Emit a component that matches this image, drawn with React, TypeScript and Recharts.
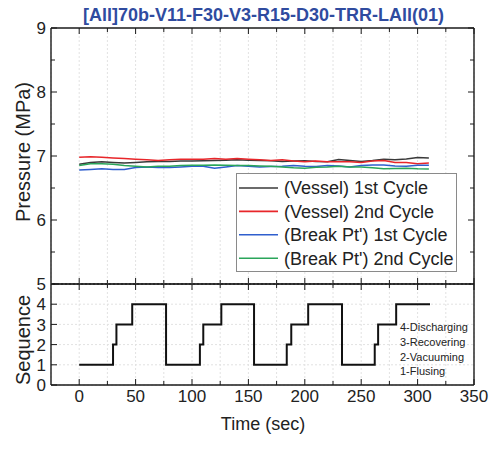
import React from 'react';
import { LineChart, Line, XAxis, YAxis, CartesianGrid, Legend } from 'recharts';

const timeSec = [0, 10, 20, 30, 40, 50, 60, 70, 80, 90, 100, 110, 120, 130, 140, 150, 160, 170, 180, 190, 200, 210, 220, 230, 240, 250, 260, 270, 280, 290, 300, 310];
const vessel1st = [6.87, 6.9, 6.91, 6.9, 6.89, 6.9, 6.91, 6.915, 6.915, 6.92, 6.92, 6.925, 6.93, 6.935, 6.94, 6.935, 6.93, 6.925, 6.915, 6.92, 6.925, 6.915, 6.91, 6.945, 6.93, 6.915, 6.93, 6.95, 6.94, 6.955, 6.975, 6.97];
const vessel2nd = [6.98, 6.99, 6.98, 6.97, 6.96, 6.95, 6.94, 6.93, 6.94, 6.95, 6.95, 6.95, 6.96, 6.95, 6.96, 6.95, 6.94, 6.93, 6.94, 6.92, 6.91, 6.92, 6.91, 6.91, 6.91, 6.9, 6.92, 6.93, 6.9, 6.9, 6.88, 6.89];
const breakPt1st = [6.78, 6.79, 6.8, 6.79, 6.79, 6.82, 6.83, 6.82, 6.82, 6.83, 6.84, 6.84, 6.81, 6.83, 6.85, 6.84, 6.83, 6.835, 6.84, 6.85, 6.84, 6.835, 6.85, 6.845, 6.83, 6.85, 6.86, 6.86, 6.845, 6.84, 6.855, 6.855];
const breakPt2nd = [6.85, 6.88, 6.88, 6.87, 6.85, 6.84, 6.83, 6.84, 6.84, 6.85, 6.855, 6.855, 6.86, 6.855, 6.85, 6.85, 6.845, 6.84, 6.83, 6.815, 6.81, 6.825, 6.83, 6.84, 6.83, 6.83, 6.815, 6.8, 6.805, 6.81, 6.8, 6.795];

const seqTime = [0, 30, 33, 47, 77, 107, 110, 126, 155, 184, 188, 203, 233, 262, 265, 281, 311];
const seqStage = [1, 2, 3, 4, 1, 2, 3, 4, 1, 2, 3, 4, 1, 2, 3, 4, 4];

const xTicks = [0, 25, 50, 75, 100, 125, 150, 175, 200, 225, 250, 275, 300, 325, 350];
const pressureTicks = [5, 5.5, 6, 6.5, 7, 7.5, 8, 8.5, 9];
const seqTicks = [0, 1, 2, 3, 4, 5];
const stageLabels = ['4-Discharging', '3-Recovering', '2-Vacuuming', '1-Flusing'];

const seriesNames = ['(Vessel) 1st Cycle', '(Vessel) 2nd Cycle', "(Break Pt') 1st Cycle", "(Break Pt') 2nd Cycle"];
const seriesKeys = ['v1', 'v2', 'b1', 'b2'];
const seriesColors = ['#3a3a3a', '#e8262a', '#2f5fce', '#2aa55a'];

const titleText = '[All]70b-V11-F30-V3-R15-D30-TRR-LAll(01)';

const pressureData = timeSec.map((t, i) => ({
  t,
  v1: vessel1st[i],
  v2: vessel2nd[i],
  b1: breakPt1st[i],
  b2: breakPt2nd[i],
}));
const seqData = seqTime.map((t, i) => ({ t, s: seqStage[i] }));

const FONT = '"Liberation Sans", Arial, Helvetica, sans-serif';
const W = 495;
const H = 452;
const LEFT = 51;
const RIGHT_M = W - 474;
const UP_TOP = 28;
const MID = 284;
const LOW_BOTTOM = 385;
const AX = '#1a1a1a';

const isMajorX = (v: number) => v % 50 === 0;
const isMajorY = (v: number) => Math.abs(v - Math.round(v)) < 1e-6;

const makeXTick = (dir: number, showLabel: boolean) => (props: any) => {
  const { x, y, payload } = props;
  const major = isMajorX(payload.value);
  const len = major ? 6 : 4;
  return (
    <g>
      <path d={`M${x},${y}v${dir * len}`} stroke={AX} strokeWidth={1} fill="none" />
      {showLabel && major ? (
        <text x={x} y={y + 17} textAnchor="middle" fontSize={17} fontFamily={FONT} fill="#222" stroke="none">
          {payload.value}
        </text>
      ) : null}
    </g>
  );
};

const makeYTick = (dir: number, labelFilter: ((v: number) => boolean) | null) => (props: any) => {
  const { x, y, payload } = props;
  const major = isMajorY(payload.value);
  const len = major ? 6 : 4;
  return (
    <g>
      <path d={`M${x},${y}h${dir * len}`} stroke={AX} strokeWidth={1} fill="none" />
      {labelFilter && major && labelFilter(payload.value) ? (
        <text x={x - 5} y={y} dy="0.36em" textAnchor="end" fontSize={17} fontFamily={FONT} fill="#222" stroke="none">
          {payload.value}
        </text>
      ) : null}
    </g>
  );
};

const renderLegend = () => {
  const w = 221;
  const h = 99;
  return (
    <svg width={w} height={h} style={{ display: 'block' }}>
      <rect x={0.5} y={0.5} width={w - 1} height={h - 1} fill="#fff" stroke="#8a8a8a" strokeWidth={1} />
      {seriesNames.map((name, i) => {
        const cy = 15 + i * 23.4;
        return (
          <g key={name}>
            <path d={`M3,${cy}H42`} stroke={seriesColors[i]} strokeWidth={1.6} />
            <text x={48} y={cy} dy="0.36em" fontSize={18} fontFamily={FONT} fill="#222">
              {name}
            </text>
          </g>
        );
      })}
    </svg>
  );
};

const commonX = {
  dataKey: 't',
  type: 'number' as const,
  domain: [-25, 350],
  ticks: xTicks,
  interval: 0 as const,
  tickSize: 0,
  tickMargin: 0,
  tickLine: false,
  axisLine: true,
  stroke: AX,
  strokeWidth: 1.4,
  allowDataOverflow: true,
};

export default function App() {
  return (
    <div style={{ position: 'absolute', left: 0, top: 0, width: W, height: H, background: '#fff' }}>
      <div style={{ position: 'absolute', left: 0, top: 0 }}>
        <LineChart
          width={W}
          height={H}
          data={pressureData}
          margin={{ top: UP_TOP - 1, right: RIGHT_M - 1, bottom: H - MID - 1, left: 0 }}
        >
          <CartesianGrid horizontal={false} stroke="#e2e2e2" strokeDasharray="2 2" />
          <XAxis {...commonX} height={1} tick={makeXTick(-1, false)} />
          <XAxis {...commonX} xAxisId="top" orientation="top" height={1} tick={makeXTick(1, false)} />
          <YAxis
            type="number"
            domain={[5, 9]}
            ticks={pressureTicks}
            interval={0}
            width={LEFT}
            tickSize={0}
            tickMargin={0}
            tickLine={false}
            stroke={AX}
            strokeWidth={1.4}
            tick={makeYTick(1, (v) => v > 5)}
            allowDataOverflow
          />
          <YAxis
            yAxisId="right"
            orientation="right"
            type="number"
            domain={[5, 9]}
            ticks={pressureTicks}
            interval={0}
            width={1}
            tickSize={0}
            tickMargin={0}
            tickLine={false}
            stroke={AX}
            strokeWidth={1.4}
            tick={makeYTick(-1, null)}
            allowDataOverflow
          />
          {seriesKeys.map((k, i) => (
            <Line
              key={k}
              dataKey={k}
              name={seriesNames[i]}
              stroke={seriesColors[i]}
              strokeWidth={1.5}
              dot={false}
              type="linear"
              isAnimationActive={false}
            />
          ))}
          <Legend
            layout="vertical"
            align="center"
            verticalAlign="middle"
            wrapperStyle={{ left: 236, top: 173, width: 221, height: 99, right: 'auto', bottom: 'auto' }}
            content={renderLegend}
          />
        </LineChart>
      </div>
      <div style={{ position: 'absolute', left: 0, top: 0 }}>
        <LineChart
          width={W}
          height={H}
          data={seqData}
          margin={{ top: MID - 1, right: RIGHT_M - 1, bottom: H - LOW_BOTTOM - 40, left: 0 }}
        >
          <CartesianGrid stroke="#e2e2e2" strokeDasharray="2 2" />
          <XAxis {...commonX} height={40} tick={makeXTick(-1, true)} />
          <XAxis {...commonX} xAxisId="top" orientation="top" height={1} tick={makeXTick(1, false)} />
          <YAxis
            type="number"
            domain={[0, 5]}
            ticks={seqTicks}
            interval={0}
            width={LEFT}
            tickSize={0}
            tickMargin={0}
            tickLine={false}
            stroke={AX}
            strokeWidth={1.4}
            tick={makeYTick(1, () => true)}
          />
          <YAxis
            yAxisId="right"
            orientation="right"
            type="number"
            domain={[0, 5]}
            ticks={seqTicks}
            interval={0}
            width={1}
            tickSize={0}
            tickMargin={0}
            tickLine={false}
            stroke={AX}
            strokeWidth={1.4}
            tick={makeYTick(-1, null)}
          />
          <Line
            dataKey="s"
            stroke="#111"
            strokeWidth={2}
            dot={false}
            type="stepAfter"
            isAnimationActive={false}
          />
        </LineChart>
      </div>
      <svg
        width={W}
        height={H}
        style={{ position: 'absolute', left: 0, top: 0, pointerEvents: 'none' }}
      >
        <text x={263.5} y={21} textAnchor="middle" fontSize={18} fontWeight="bold" fontFamily={FONT} fill="#2f4b9f">
          {titleText}
        </text>
        <text
          transform="translate(23,152) rotate(-90)"
          textAnchor="middle"
          dy="0.36em"
          fontSize={20}
          fontFamily={FONT}
          fill="#222"
        >
          Pressure (MPa)
        </text>
        <text
          transform="translate(23,340) rotate(-90)"
          textAnchor="middle"
          dy="0.36em"
          fontSize={20}
          fontFamily={FONT}
          fill="#222"
        >
          Sequence
        </text>
        <text x={263} y={430} textAnchor="middle" fontSize={18} fontFamily={FONT} fill="#222">
          Time (sec)
        </text>
        {stageLabels.map((s, i) => (
          <text key={s} x={400} y={331 + i * 14.8} fontSize={11} fontFamily={FONT} fill="#222">
            {s}
          </text>
        ))}
      </svg>
    </div>
  );
}
